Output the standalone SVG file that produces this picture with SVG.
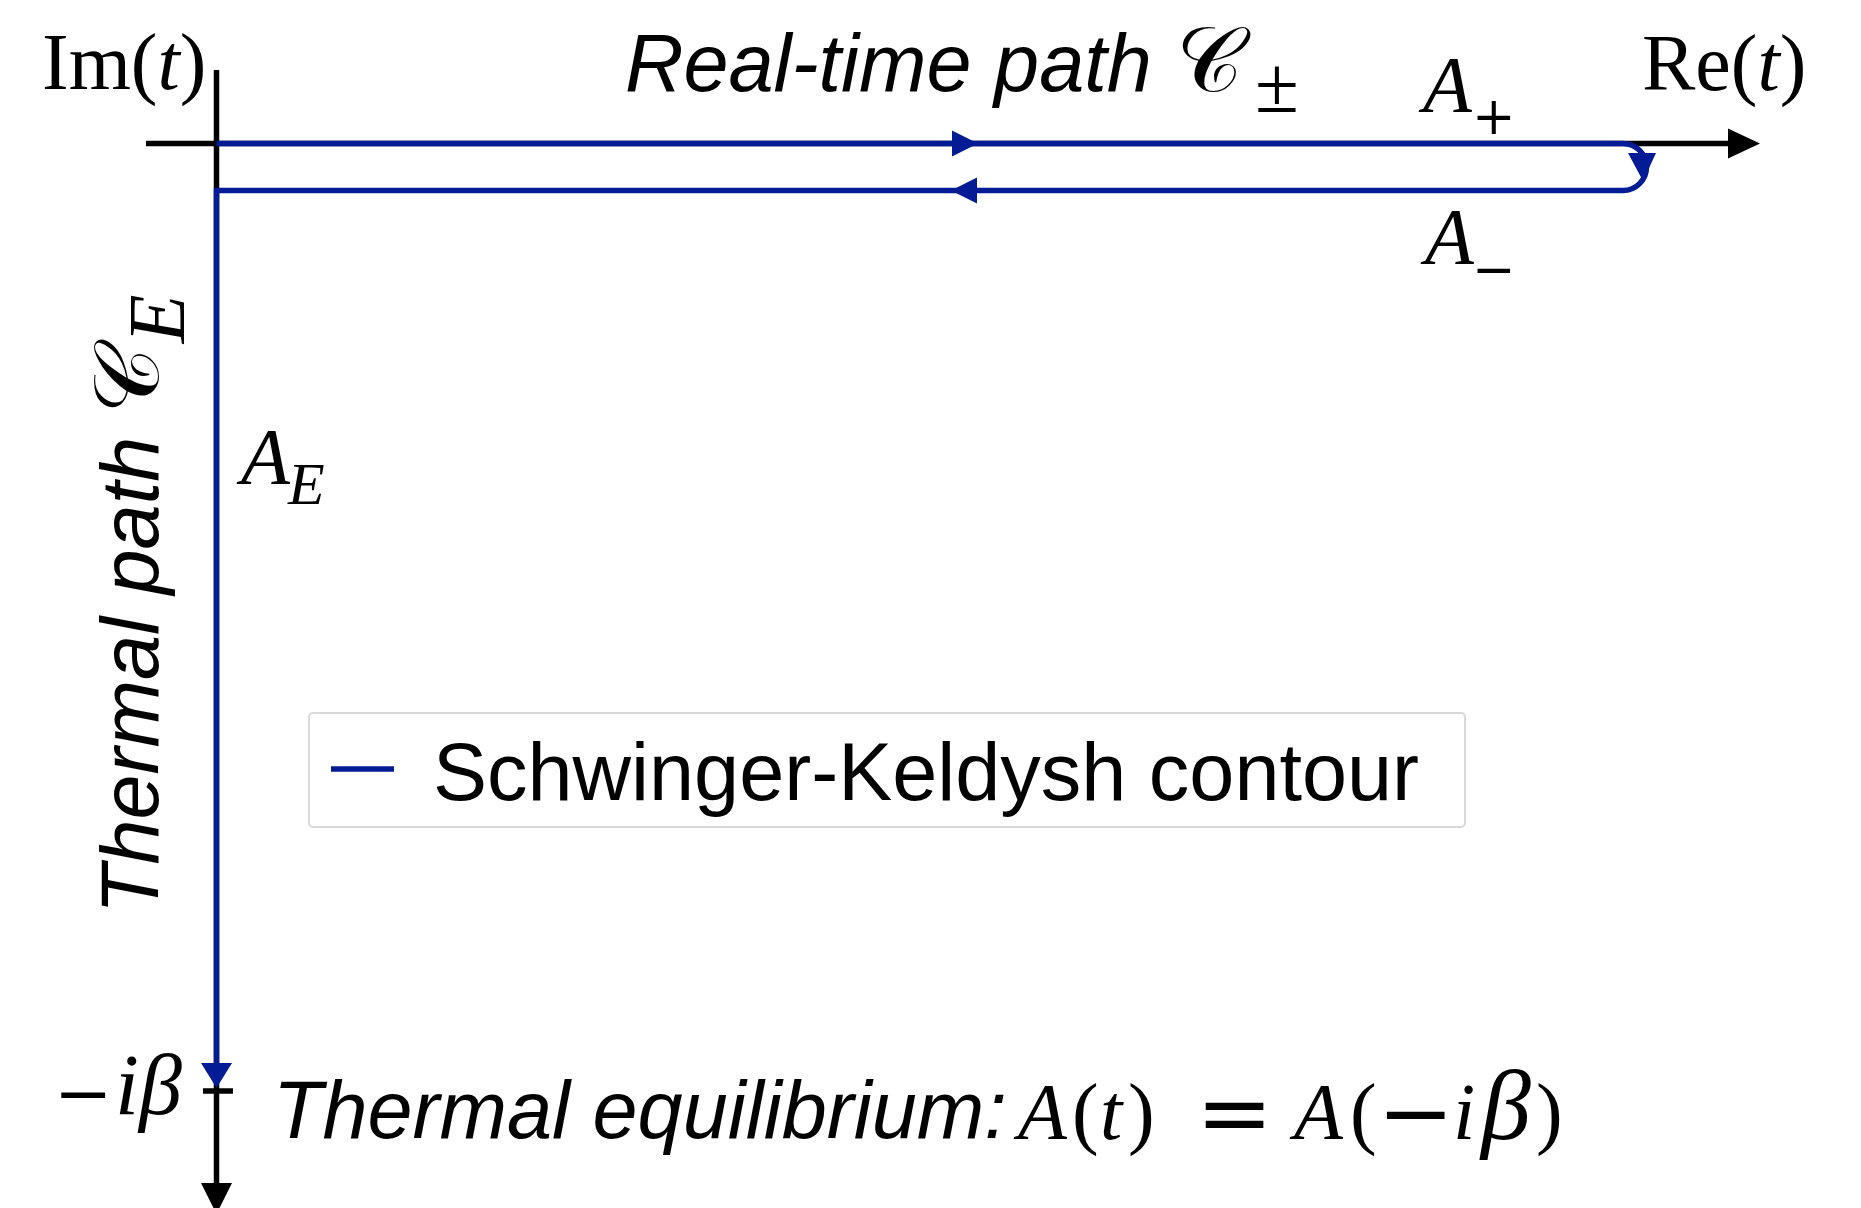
<svg xmlns="http://www.w3.org/2000/svg" width="1861" height="1208" viewBox="0 0 1861 1208">
<style>
.ax{stroke:#000;stroke-width:5.5;fill:none}
.ahk{fill:#000;stroke:none}
.ct{stroke:#031b95;stroke-width:5.5;fill:none;stroke-linejoin:miter}
.ahb{fill:#031b95;stroke:none}
.sans{font-family:"Liberation Sans",Arial,sans-serif;font-size:81px;fill:#000}
.it{font-style:italic}
.up{font-style:normal}
.ser{font-family:"Liberation Serif","Times New Roman",serif;font-size:80px;fill:#000}
.dj{font-family:"DejaVu Serif",serif;font-style:normal}
.scr{font-family:"DejaVu Serif","DejaVu Sans",serif;font-style:normal}
</style>
<rect width="1861" height="1208" fill="#fff"/>
<g id="axes">
<line class="ax" x1="146" y1="143.5" x2="1732" y2="143.5"/>
<polygon class="ahk" points="1728,128.5 1760,143.5 1728,158.5"/>
<line class="ax" x1="216.5" y1="70" x2="216.5" y2="1186"/>
<polygon class="ahk" points="201,1183 232,1183 216.5,1214"/>
<line class="ax" x1="203" y1="1091" x2="233" y2="1091"/>
</g>
<g id="connectors">
<path class="ct" d="M216.5,143.5 H1623 A23.5,23.5 0 0 1 1623,190.5 H216.5 V1066"/>
<polygon class="ahb" points="952,130.5 978,143.5 952,156.5"/>
<polygon class="ahb" points="977,177.5 951,190.5 977,203.5"/>
<polygon class="ahb" points="1628,153 1656,153 1643,181"/>
<polygon class="ahb" points="201,1063 232,1063 216.5,1088"/>
</g>
<g id="label-im">
<text class="ser" x="42" y="89">Im(<tspan class="it">t</tspan>)</text>
</g>
<g id="label-re">
<text class="ser" x="1642" y="90">Re(<tspan class="it">t</tspan>)</text>
</g>
<g id="label-realtime">
<text class="sans it" x="625" y="91">Real-time path <tspan class="scr" x="1176" font-size="92">𝒞</tspan><tspan class="ser up" x="1255" y="112" font-size="62">±</tspan></text>
</g>
<g id="label-aplus">
<text class="ser it" x="1423" y="112">A<tspan class="dj" x="1472" y="134" font-size="52">+</tspan></text>
</g>
<g id="label-aminus">
<text class="ser it" x="1425" y="264">A<tspan class="dj" x="1472" y="287" font-size="52">−</tspan></text>
</g>
<g id="label-ae">
<text class="ser it" x="241" y="484">A<tspan x="288" y="504" font-size="60">E</tspan></text>
</g>
<g id="label-thermalpath">
<text class="sans it" transform="translate(158,914) rotate(-90)" x="0" y="0">Thermal path <tspan class="scr" font-size="92">𝒞</tspan><tspan class="ser it" dx="4" dy="26" font-size="60">E</tspan></text>
</g>
<g id="label-beta">
<text class="ser" y="1114"><tspan class="dj" x="54" y="1117" font-size="70">−</tspan><tspan class="it" x="115" y="1114" font-size="86">iβ</tspan></text>
</g>
<g id="label-equilibrium">
<text class="sans it" x="273" y="1138">Thermal equilibrium:</text>
<text class="ser" font-size="104"><tspan class="it" x="1018" y="1139">A</tspan><tspan x="1072" y="1139">(</tspan><tspan class="it" x="1100">t</tspan><tspan x="1128">)</tspan><tspan class="dj" x="1196" y="1144" font-size="92">=</tspan><tspan class="it" x="1294" y="1139">A</tspan><tspan x="1350" y="1139">(</tspan><tspan class="dj" x="1377" y="1144" font-size="92">−</tspan><tspan class="it" x="1453" y="1139">i</tspan><tspan class="it" x="1481" font-size="100">β</tspan><tspan x="1536" y="1139">)</tspan></text>
</g>
<g id="legend">
<rect x="309" y="713" width="1156" height="114" rx="4" fill="#fff" stroke="#d9d9d9" stroke-width="2"/>
<line x1="331" y1="769" x2="394" y2="769" stroke="#031b95" stroke-width="5.5"/>
<text class="sans" x="433" y="800" font-size="84">Schwinger-Keldysh contour</text>
</g>
</svg>
